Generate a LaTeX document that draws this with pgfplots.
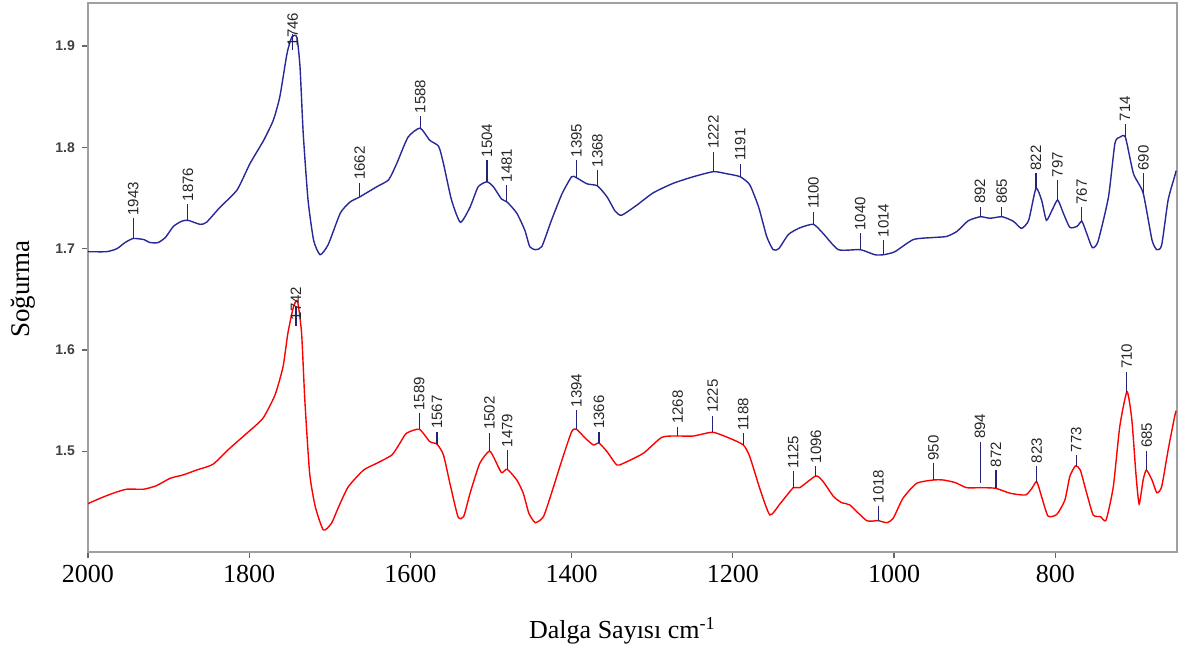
\documentclass[border=0pt]{standalone}
\usepackage{pgfplots}
\pgfplotsset{compat=1.18}
\usepackage{pgfplotstable}
\usepackage{fontspec}
\setmainfont{Liberation Serif}
\newfontfamily\lsans{Liberation Sans}
\definecolor{bluecurve}{RGB}{40,40,150}
\definecolor{pkline}{RGB}{35,35,120}
\definecolor{framegray}{RGB}{160,160,160}

\pgfplotstableread{
x y
2000 1.697
1977 1.697
1964 1.700
1954 1.706
1944 1.710
1931 1.709
1923 1.706
1913 1.706
1904 1.711
1894 1.722
1884 1.727
1876 1.728
1861 1.724
1853 1.726
1836 1.741
1815 1.758
1799 1.784
1782 1.807
1770 1.827
1762 1.850
1753 1.893
1747 1.909
1741 1.909
1737 1.880
1733 1.814
1727 1.748
1720 1.708
1712 1.694
1702 1.704
1687 1.735
1675 1.746
1663 1.751
1642 1.761
1627 1.768
1617 1.784
1603 1.810
1588 1.819
1576 1.807
1565 1.801
1559 1.784
1549 1.748
1538 1.726
1526 1.741
1516 1.761
1505 1.766
1497 1.761
1487 1.749
1480 1.746
1468 1.735
1458 1.718
1452 1.702
1445 1.699
1437 1.702
1425 1.728
1412 1.754
1400 1.771
1394 1.770
1381 1.764
1368 1.762
1356 1.751
1346 1.737
1338 1.733
1319 1.743
1299 1.755
1274 1.7645
1249 1.771
1224 1.776
1208 1.774
1191 1.771
1179 1.763
1168 1.741
1158 1.712
1150 1.699
1143 1.700
1131 1.714
1117 1.7205
1100 1.724
1088 1.715
1069 1.699
1042 1.699
1024 1.694
1013 1.694
999 1.697
976 1.709
951 1.711
935 1.712
922 1.717
908 1.7275
893 1.7315
881 1.730
866 1.7315
852 1.727
842 1.720
833 1.728
824 1.7595
817 1.748
811 1.728
804 1.738
797 1.748
790 1.735
782 1.721
773 1.722
767 1.727
761 1.715
754 1.701
747 1.707
734 1.751
726 1.804
720 1.810
713 1.810
703 1.774
691 1.755
680 1.7085
674 1.699
668 1.7035
660 1.748
652 1.771
650 1.777
}\bluedata

\pgfplotstableread{
x y
2000 1.448
1998 1.449
1985 1.4535
1969 1.4585
1952 1.4625
1931 1.4625
1915 1.466
1898 1.4733
1882 1.4766
1865 1.4815
1845 1.4871
1824 1.503
1803 1.5177
1783 1.5325
1768 1.5555
1758 1.5835
1752 1.6165
1745 1.6428
1740 1.648
1735 1.6165
1731 1.5506
1725 1.4782
1718 1.4452
1708 1.4222
1698 1.4288
1689 1.4452
1677 1.465
1658 1.4815
1642 1.488
1623 1.4963
1613 1.508
1605 1.5177
1589 1.5217
1576 1.5095
1567 1.507
1559 1.4963
1551 1.4683
1541 1.4354
1534 1.4354
1526 1.4585
1514 1.488
1502 1.5002
1495 1.4913
1487 1.4788
1480 1.4822
1468 1.4716
1460 1.4585
1453 1.4387
1445 1.4295
1435 1.4354
1425 1.4585
1412 1.4913
1400 1.5193
1394 1.5217
1383 1.5128
1373 1.5062
1366 1.508
1356 1.4995
1344 1.4864
1336 1.488
1311 1.498
1288 1.5138
1268 1.515
1249 1.515
1225 1.5187
1204 1.5128
1187 1.5062
1179 1.4946
1166 1.4618
1154 1.4371
1141 1.4486
1125 1.464
1117 1.464
1097 1.4756
1088 1.470
1075 1.4552
1065 1.4492
1055 1.447
1034 1.4315
1020 1.4315
1009 1.4295
1001 1.4338
989 1.4535
972 1.4683
951 1.4716
939 1.4716
924 1.469
910 1.464
893 1.464
874 1.4634
856 1.4585
837 1.4568
829 1.4634
823 1.470
817 1.4552
809 1.436
798 1.4377
788 1.452
782 1.475
775 1.4855
769 1.4815
761 1.4585
753 1.4371
744 1.4354
737 1.432
728 1.465
720 1.5243
711 1.5588
705 1.531
700 1.4782
696 1.4479
691 1.4716
687 1.4815
680 1.4716
674 1.459
668 1.465
660 1.5012
652 1.534
650 1.540
}\reddata

\pgfplotstableread{
x y1 y2 yt lab
1944 1.710 1.730 1.730 1943
1876 1.728 1.744 1.744 1876
1746 1.896 1.912 1.897 1746
1663 1.751 1.765 1.765 1662
1588 1.819 1.831 1.831 1588
1505 1.766 1.7875 1.7875 1504
1480.5 1.746 1.763 1.763 1481
1394 1.770 1.7875 1.7875 1395
1368 1.762 1.7776 1.7776 1368
1224 1.776 1.7957 1.7957 1222
1191 1.771 1.784 1.784 1191
1100 1.7243 1.7364 1.7364 1100
1042 1.699 1.715 1.715 1040
1013.3 1.694 1.7085 1.7085 1014
893.3 1.7315 1.7414 1.7414 892
866.4 1.7315 1.7414 1.7414 865
823.9 1.7595 1.7743 1.7743 822
797.4 1.748 1.7677 1.7677 797
767.2 1.727 1.7408 1.7408 767
713.4 1.810 1.823 1.823 714
690.7 1.7552 1.7743 1.7743 690
}\bluepk

\pgfplotstableread{
x y1 y2 yt lab
1742 1.624 1.642 1.6266 1742
1589 1.5217 1.5374 1.5374 1589
1567 1.507 1.5193 1.5193 1567
1502 1.5002 1.5183 1.5183 1502
1480 1.4822 1.5012 1.5012 1479
1394 1.5217 1.5407 1.5407 1394
1366 1.508 1.5194 1.5194 1366
1268.4 1.515 1.5243 1.5243 1268
1225 1.5187 1.5352 1.5352 1225
1187 1.5062 1.5177 1.5177 1188
1125 1.464 1.4805 1.4805 1125
1097 1.4756 1.4855 1.4855 1096
1019.5 1.4315 1.446 1.446 1018
951 1.4716 1.488 1.488 950
893.3 1.4683 1.5095 1.5095 894
873.5 1.4634 1.4815 1.4815 872
823 1.470 1.4855 1.4855 823
774 1.4855 1.4963 1.4963 773
711.3 1.5588 1.5785 1.5785 710
686.5 1.4815 1.5005 1.5005 685
}\redpk

\begin{document}
\begin{tikzpicture}
\begin{axis}[
  scale only axis,
  width=544.5pt, height=274.5pt,
  x dir=reverse,
  xmin=649, xmax=2000,
  ymin=1.4005, ymax=1.9425,
  xtick={800,1000,1200,1400,1600,1800,2000},
  ytick={1.5,1.6,1.7,1.8,1.9},
  /pgf/number format/assume math mode=true,
  xticklabel style={font=\fontsize{13}{15}\selectfont, /pgf/number format/1000 sep={}},
  yticklabel style={font=\lsans\bfseries\fontsize{7}{8}\selectfont, text=black!75,
     /pgf/number format/fixed, /pgf/number format/precision=1, /pgf/number format/fixed zerofill},
  tick pos=left,
  tick align=outside,
  major tick length=3pt,
  tick style={black!60, line width=0.6pt},
  axis line style={framegray, line width=1.3pt},
  xlabel={Dalga Sayısı cm\textsuperscript{-1}},
  xlabel style={font=\fontsize{13}{15}\selectfont, at={(axis description cs:0.4908,0)}, anchor=base, yshift=-43pt},
  ylabel={Soğurma},
  ylabel style={font=\fontsize{13.5}{15}\selectfont, at={(axis description cs:-0.0592,0.479)}, anchor=center},
  clip mode=individual,
]
\addplot[bluecurve, line width=0.7pt, smooth, tension=0.35] table[x=x, y=y] {\bluedata};
\addplot[red, line width=0.7pt, smooth, tension=0.35] table[x=x, y=y] {\reddata};

\addplot[pkline, line width=0.55pt, quiver={u=0, v=\thisrow{y2}-\thisrow{y1}}] table[x=x, y=y1] {\bluepk};
\addplot[pkline, line width=0.55pt, quiver={u=0, v=\thisrow{y2}-\thisrow{y1}}] table[x=x, y=y1] {\redpk};

\addplot[draw=none, mark=none, nodes near coords, point meta=explicit symbolic,
  every node near coord/.append style={rotate=90, anchor=west, inner sep=1.2pt, text=black!85, font=\lsans\fontsize{7.5}{8}\selectfont}]
  table[x=x, y=yt, meta=lab] {\bluepk};
\addplot[draw=none, mark=none, nodes near coords, point meta=explicit symbolic,
  every node near coord/.append style={rotate=90, anchor=west, inner sep=1.2pt, text=black!85, font=\lsans\fontsize{7.5}{8}\selectfont}]
  table[x=x, y=yt, meta=lab] {\redpk};
\end{axis}
\pgfresetboundingbox
\path (-44pt,-51.5pt) rectangle (545.5pt,276pt);
\end{tikzpicture}
\end{document}
